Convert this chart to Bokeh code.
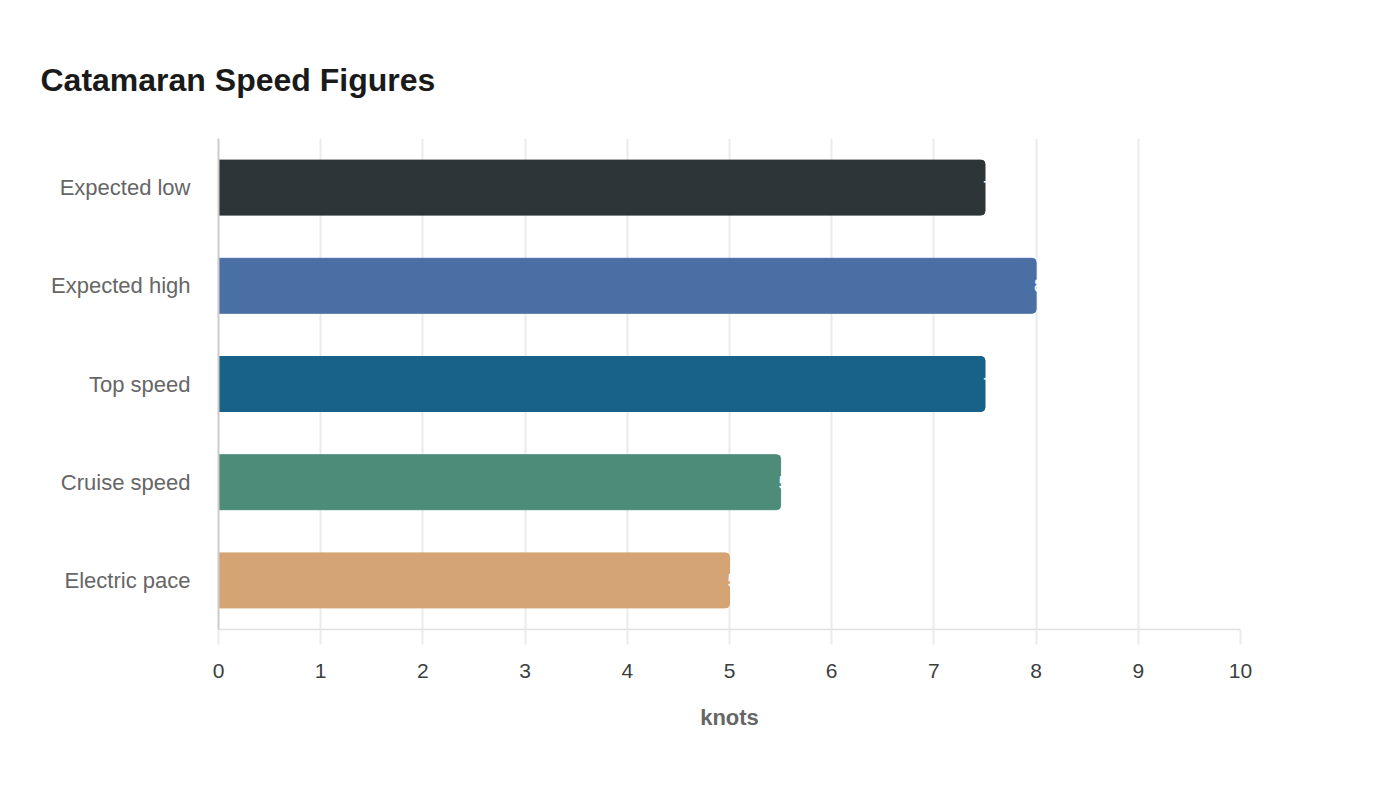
from bokeh.plotting import figure
from bokeh.models import ColumnDataSource, FactorRange, Range1d, FixedTicker
from bokeh.core.properties import value
from bokeh.embed import file_html
from bokeh.resources import INLINE

categories = ["Expected low", "Expected high", "Top speed", "Cruise speed", "Electric pace"]
speeds = [7.5, 8, 7.5, 5.5, 5]
colors = ["#2d3538", "#4a6fa5", "#186187", "#4e8c7a", "#d4a474"]
labels = ["7.5", "8", "7.5", "5.5", "5"]
x_ticks = [0, 1, 2, 3, 4, 5, 6, 7, 8, 9, 10]

FONT = "Liberation Sans"

src = ColumnDataSource(dict(cat=categories, v=speeds, c=colors, lab=labels))

p = figure(
    width=1392, height=784,
    y_range=FactorRange(*list(reversed(categories)), range_padding=0),
    x_range=Range1d(0, 10),
    output_backend="svg", toolbar_location=None,
    min_border_left=218, min_border_right=152, min_border_top=138, min_border_bottom=155,
)
p.outline_line_color = None
p.background_fill_color = "white"
p.border_fill_color = "white"

p.hbar(y="cat", right="v", left=0, height=0.56, color="c", source=src,
       border_radius=(0, 4, 4, 0))
p.text(x="v", y="cat", text="lab", source=src, text_color="white",
       text_align="left", text_baseline="middle", x_offset=-2,
       text_font=value(FONT), text_font_size="18px")

# title
p.title.text = "Catamaran Speed Figures"
p.title.text_font = FONT
p.title.text_font_size = "32px"
p.title.text_font_style = "bold"
p.title.text_color = "#1a1a1a"
p.title.align = "left"
p.title.offset = -178
p.title.standoff = 82

# x axis
xa = p.xaxis[0]
xa.ticker = FixedTicker(ticks=x_ticks)
xa.axis_label = "knots"
xa.axis_label_text_font = FONT
xa.axis_label_text_font_style = "bold"
xa.axis_label_text_font_size = "22px"
xa.axis_label_text_color = "#666666"
xa.axis_label_standoff = 24
xa.major_label_text_font = FONT
xa.major_label_text_font_size = "21px"
xa.major_label_text_color = "#3a3f3f"
xa.major_label_standoff = 19
xa.axis_line_color = "#e0e0e0"
xa.axis_line_width = 1.5
xa.major_tick_line_color = "#ebebeb"
xa.major_tick_line_width = 2
xa.major_tick_out = 15
xa.major_tick_in = 0
xa.minor_tick_line_color = None

# y axis
ya = p.yaxis[0]
ya.major_label_text_font = FONT
ya.major_label_text_font_size = "22px"
ya.major_label_text_color = "#666666"
ya.major_label_standoff = 22
ya.axis_line_color = "#cccccc"
ya.axis_line_width = 2
ya.major_tick_line_color = None
ya.minor_tick_line_color = None

p.xgrid.grid_line_color = "#ebebeb"
p.xgrid.grid_line_width = 2
p.ygrid.grid_line_color = None

open("out.html", "w").write(file_html(p, INLINE))
